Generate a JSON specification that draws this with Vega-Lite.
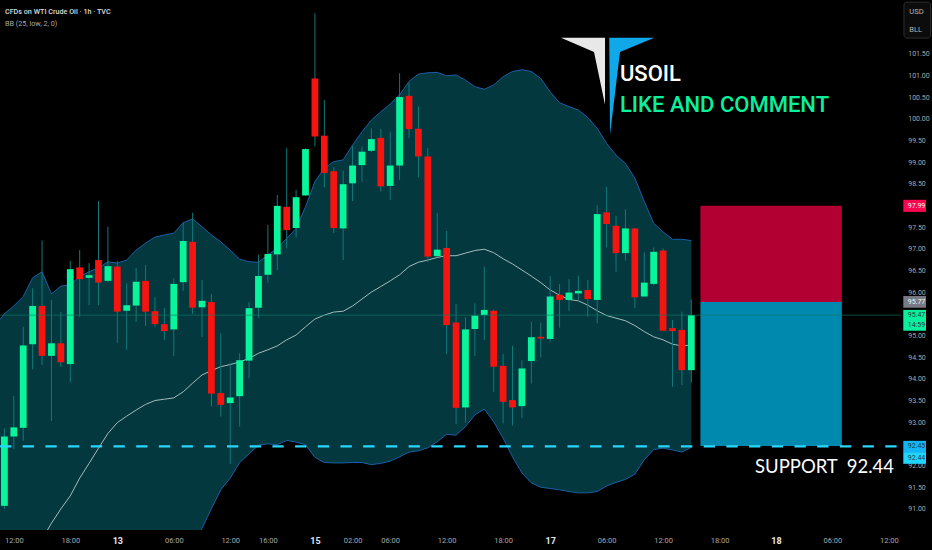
{
  "$schema": "https://vega.github.io/schema/vega-lite/v6.json",
  "width": 932,
  "height": 530,
  "autosize": "none",
  "padding": {"left": 0, "top": 0, "right": 0, "bottom": 20},
  "background": "#000000",
  "config": {"view": {"stroke": null}},
  "datasets": {
    "candles": [
      {"bar":0,"open":91.07,"high":92.86,"low":91.00,"close":92.67},
      {"bar":1,"open":92.67,"high":93.60,"low":92.38,"close":92.88},
      {"bar":2,"open":92.87,"high":95.20,"low":92.57,"close":94.77},
      {"bar":3,"open":94.80,"high":96.09,"low":94.22,"close":95.68},
      {"bar":4,"open":95.68,"high":97.19,"low":94.32,"close":94.53},
      {"bar":5,"open":94.53,"high":95.82,"low":93.03,"close":94.82},
      {"bar":6,"open":94.82,"high":95.54,"low":94.28,"close":94.38},
      {"bar":7,"open":94.34,"high":96.72,"low":93.92,"close":96.53},
      {"bar":8,"open":96.57,"high":96.97,"low":95.43,"close":96.30},
      {"bar":9,"open":96.33,"high":96.67,"low":95.70,"close":96.39},
      {"bar":10,"open":96.74,"high":98.10,"low":95.70,"close":96.22},
      {"bar":11,"open":96.26,"high":97.51,"low":96.23,"close":96.60},
      {"bar":12,"open":96.59,"high":96.72,"low":94.83,"close":95.55},
      {"bar":13,"open":95.57,"high":96.20,"low":94.67,"close":95.70},
      {"bar":14,"open":95.69,"high":96.56,"low":95.32,"close":96.24},
      {"bar":15,"open":96.26,"high":96.63,"low":95.22,"close":95.55},
      {"bar":16,"open":95.56,"high":95.88,"low":95.20,"close":95.26},
      {"bar":17,"open":95.26,"high":95.63,"low":94.90,"close":95.10},
      {"bar":18,"open":95.14,"high":96.32,"low":94.53,"close":96.19},
      {"bar":19,"open":96.23,"high":97.61,"low":96.03,"close":97.18},
      {"bar":20,"open":97.16,"high":97.83,"low":95.50,"close":95.64},
      {"bar":21,"open":95.65,"high":96.28,"low":94.97,"close":95.80},
      {"bar":22,"open":95.77,"high":95.96,"low":93.36,"close":93.66},
      {"bar":23,"open":93.67,"high":95.05,"low":93.13,"close":93.40},
      {"bar":24,"open":93.44,"high":94.37,"low":92.04,"close":93.57},
      {"bar":25,"open":93.60,"high":94.59,"low":92.90,"close":94.43},
      {"bar":26,"open":94.42,"high":95.77,"low":94.01,"close":95.63},
      {"bar":27,"open":95.64,"high":96.86,"low":95.41,"close":96.37},
      {"bar":28,"open":96.40,"high":97.55,"low":96.22,"close":96.88},
      {"bar":29,"open":96.87,"high":98.24,"low":96.51,"close":97.99},
      {"bar":30,"open":97.97,"high":99.32,"low":97.01,"close":97.43},
      {"bar":31,"open":97.48,"high":98.36,"low":97.26,"close":98.19},
      {"bar":32,"open":98.23,"high":99.32,"low":98.22,"close":99.30},
      {"bar":33,"open":100.93,"high":102.43,"low":99.36,"close":99.59},
      {"bar":34,"open":99.61,"high":100.43,"low":98.42,"close":98.75},
      {"bar":35,"open":98.79,"high":98.88,"low":97.36,"close":97.48},
      {"bar":36,"open":97.47,"high":98.80,"low":96.74,"close":98.49},
      {"bar":37,"open":98.51,"high":99.38,"low":98.10,"close":98.92},
      {"bar":38,"open":98.93,"high":99.36,"low":98.55,"close":99.24},
      {"bar":39,"open":99.26,"high":99.78,"low":99.23,"close":99.53},
      {"bar":40,"open":99.56,"high":99.76,"low":98.32,"close":98.44},
      {"bar":41,"open":98.45,"high":99.70,"low":98.13,"close":98.92},
      {"bar":42,"open":98.92,"high":101.05,"low":98.59,"close":100.50},
      {"bar":43,"open":100.53,"high":100.83,"low":99.55,"close":99.76},
      {"bar":44,"open":99.77,"high":100.28,"low":98.65,"close":99.13},
      {"bar":45,"open":99.13,"high":99.32,"low":96.69,"close":96.82},
      {"bar":46,"open":96.83,"high":97.82,"low":96.81,"close":96.98},
      {"bar":47,"open":97.02,"high":97.41,"low":94.57,"close":95.24},
      {"bar":48,"open":95.30,"high":95.73,"low":92.96,"close":93.33},
      {"bar":49,"open":93.34,"high":95.42,"low":92.99,"close":95.14},
      {"bar":50,"open":95.15,"high":95.74,"low":94.53,"close":95.46},
      {"bar":51,"open":95.47,"high":96.59,"low":94.90,"close":95.59},
      {"bar":52,"open":95.57,"high":95.60,"low":93.70,"close":94.28},
      {"bar":53,"open":94.30,"high":94.57,"low":92.97,"close":93.47},
      {"bar":54,"open":93.51,"high":94.76,"low":92.92,"close":93.34},
      {"bar":55,"open":93.37,"high":94.43,"low":93.09,"close":94.24},
      {"bar":56,"open":94.41,"high":95.32,"low":93.89,"close":94.96},
      {"bar":57,"open":94.97,"high":95.30,"low":94.49,"close":94.93},
      {"bar":58,"open":94.92,"high":96.37,"low":94.86,"close":95.90},
      {"bar":59,"open":95.94,"high":96.19,"low":95.18,"close":95.82},
      {"bar":60,"open":95.82,"high":96.30,"low":95.57,"close":95.99},
      {"bar":61,"open":95.97,"high":96.38,"low":95.80,"close":96.03},
      {"bar":62,"open":96.05,"high":96.28,"low":95.43,"close":95.84},
      {"bar":63,"open":95.82,"high":98.00,"low":95.28,"close":97.80},
      {"bar":64,"open":97.84,"high":98.43,"low":97.03,"close":97.57},
      {"bar":65,"open":97.53,"high":97.76,"low":96.47,"close":96.90},
      {"bar":66,"open":96.90,"high":97.91,"low":96.73,"close":97.47},
      {"bar":67,"open":97.47,"high":97.48,"low":95.63,"close":95.88},
      {"bar":68,"open":95.90,"high":96.92,"low":95.89,"close":96.22},
      {"bar":69,"open":96.19,"high":97.03,"low":96.15,"close":96.93},
      {"bar":70,"open":96.96,"high":97.01,"low":95.10,"close":95.11},
      {"bar":71,"open":95.17,"high":95.36,"low":93.82,"close":95.10},
      {"bar":72,"open":95.13,"high":95.55,"low":93.86,"close":94.20},
      {"bar":73,"open":94.20,"high":95.83,"low":93.91,"close":95.47}
    ],
    "bb": [
      {"bar":-1,"upper":95.22,"middle":null,"lower":90.0},
      {"bar":0,"upper":95.50,"middle":null,"lower":90.0},
      {"bar":1,"upper":95.68,"middle":null,"lower":90.0},
      {"bar":2,"upper":95.90,"middle":null,"lower":90.0},
      {"bar":3,"upper":96.33,"middle":null,"lower":90.0},
      {"bar":4,"upper":96.47,"middle":90.30,"lower":90.0},
      {"bar":5,"upper":95.96,"middle":90.67,"lower":90.0},
      {"bar":6,"upper":96.14,"middle":91.00,"lower":90.0},
      {"bar":7,"upper":96.17,"middle":91.30,"lower":90.0},
      {"bar":8,"upper":96.36,"middle":91.71,"lower":90.0},
      {"bar":9,"upper":96.47,"middle":92.05,"lower":90.0},
      {"bar":10,"upper":96.56,"middle":92.40,"lower":90.0},
      {"bar":11,"upper":96.70,"middle":92.74,"lower":90.0},
      {"bar":12,"upper":96.67,"middle":92.99,"lower":90.0},
      {"bar":13,"upper":96.74,"middle":93.14,"lower":90.0},
      {"bar":14,"upper":96.97,"middle":93.28,"lower":90.0},
      {"bar":15,"upper":97.13,"middle":93.41,"lower":90.0},
      {"bar":16,"upper":97.27,"middle":93.50,"lower":90.0},
      {"bar":17,"upper":97.32,"middle":93.53,"lower":90.0},
      {"bar":18,"upper":97.36,"middle":93.56,"lower":90.0},
      {"bar":19,"upper":97.60,"middle":93.70,"lower":90.0},
      {"bar":20,"upper":97.69,"middle":93.90,"lower":90.17},
      {"bar":21,"upper":97.51,"middle":94.09,"lower":90.55},
      {"bar":22,"upper":97.32,"middle":94.19,"lower":91.01},
      {"bar":23,"upper":97.16,"middle":94.28,"lower":91.44},
      {"bar":24,"upper":96.97,"middle":94.33,"lower":91.71},
      {"bar":25,"upper":96.76,"middle":94.39,"lower":92.07},
      {"bar":26,"upper":96.70,"middle":94.47,"lower":92.27},
      {"bar":27,"upper":96.69,"middle":94.59,"lower":92.47},
      {"bar":28,"upper":96.86,"middle":94.67,"lower":92.50},
      {"bar":29,"upper":97.01,"middle":94.76,"lower":92.48},
      {"bar":30,"upper":97.24,"middle":94.90,"lower":92.58},
      {"bar":31,"upper":97.47,"middle":95.01,"lower":92.54},
      {"bar":32,"upper":97.97,"middle":95.20,"lower":92.48},
      {"bar":33,"upper":98.55,"middle":95.38,"lower":92.19},
      {"bar":34,"upper":98.86,"middle":95.47,"lower":92.07},
      {"bar":35,"upper":99.01,"middle":95.54,"lower":92.06},
      {"bar":36,"upper":99.05,"middle":95.56,"lower":92.06},
      {"bar":37,"upper":99.39,"middle":95.68,"lower":92.07},
      {"bar":38,"upper":99.70,"middle":95.84,"lower":92.07},
      {"bar":39,"upper":99.97,"middle":96.00,"lower":92.02},
      {"bar":40,"upper":100.16,"middle":96.13,"lower":92.05},
      {"bar":41,"upper":100.34,"middle":96.26,"lower":92.10},
      {"bar":42,"upper":100.55,"middle":96.40,"lower":92.20},
      {"bar":43,"upper":100.86,"middle":96.59,"lower":92.31},
      {"bar":44,"upper":101.03,"middle":96.69,"lower":92.34},
      {"bar":45,"upper":101.06,"middle":96.74,"lower":92.41},
      {"bar":46,"upper":101.07,"middle":96.80,"lower":92.55},
      {"bar":47,"upper":100.99,"middle":96.84,"lower":92.72},
      {"bar":48,"upper":101.01,"middle":96.84,"lower":92.70},
      {"bar":49,"upper":100.89,"middle":96.90,"lower":92.90},
      {"bar":50,"upper":100.74,"middle":96.96,"lower":93.17},
      {"bar":51,"upper":100.68,"middle":96.99,"lower":93.30},
      {"bar":52,"upper":100.78,"middle":96.91,"lower":93.01},
      {"bar":53,"upper":100.97,"middle":96.77,"lower":92.63},
      {"bar":54,"upper":101.09,"middle":96.65,"lower":92.20},
      {"bar":55,"upper":101.13,"middle":96.51,"lower":91.83},
      {"bar":56,"upper":101.09,"middle":96.37,"lower":91.60},
      {"bar":57,"upper":100.93,"middle":96.22,"lower":91.50},
      {"bar":58,"upper":100.62,"middle":96.05,"lower":91.47},
      {"bar":59,"upper":100.37,"middle":95.93,"lower":91.44},
      {"bar":60,"upper":100.28,"middle":95.83,"lower":91.40},
      {"bar":61,"upper":100.20,"middle":95.80,"lower":91.37},
      {"bar":62,"upper":100.03,"middle":95.70,"lower":91.37},
      {"bar":63,"upper":99.78,"middle":95.57,"lower":91.40},
      {"bar":64,"upper":99.43,"middle":95.46,"lower":91.53},
      {"bar":65,"upper":99.16,"middle":95.40,"lower":91.61},
      {"bar":66,"upper":98.97,"middle":95.34,"lower":91.68},
      {"bar":67,"upper":98.63,"middle":95.23,"lower":91.80},
      {"bar":68,"upper":98.09,"middle":95.09,"lower":92.13},
      {"bar":69,"upper":97.59,"middle":94.97,"lower":92.37},
      {"bar":70,"upper":97.39,"middle":94.90,"lower":92.40},
      {"bar":71,"upper":97.22,"middle":94.80,"lower":92.36},
      {"bar":72,"upper":97.22,"middle":94.76,"lower":92.31},
      {"bar":73,"upper":97.19,"middle":94.78,"lower":92.42}
    ]
  },
  "encoding": {
    "x": {
      "field": "bar",
      "type": "quantitative",
      "scale": {"domain": [-0.468, 98.58], "nice": false, "zero": false, "padding": 0},
      "axis": {
        "title": null,
        "grid": false,
        "domain": false,
        "ticks": false,
        "labelPadding": 6,
        "labelFont": "Roboto",
        "labelFontSize": {"expr": "indexof([12,33,58,82],datum.value)>=0?9:7.5"},
        "labelColor": {"expr": "indexof([12,33,58,82],datum.value)>=0?'#e6e6e6':'#a8a8a8'"},
        "labelFontWeight": {"expr": "indexof([12,33,58,82],datum.value)>=0?'bold':'normal'"},
        "labelOverlap": false,
        "labelFlush": false,
        "tickCount": 30,
        "values": [1,7,12,18,24,28,33,37,41,47,53,58,64,70,76,82,88,94],
        "labelExpr": "indexof([1,24,47,70,94],datum.value)>=0?'12:00':indexof([7,53,76],datum.value)>=0?'18:00':indexof([18,41,64,88],datum.value)>=0?'06:00':datum.value==28?'16:00':datum.value==37?'02:00':datum.value==12?'13':datum.value==33?'15':datum.value==58?'17':'18'"
      }
    }
  },
  "layer": [
    {
      "data": {"name": "bb"},
      "mark": {"type": "area", "color": "#03383f", "clip": true, "orient": "vertical"},
      "encoding": {
        "y": {
          "field": "upper",
          "type": "quantitative",
          "scale": {"domain": [90.513, 102.739], "nice": false, "zero": false},
          "axis": {
            "title": null,
            "orient": "right",
            "offset": -24.3,
            "grid": false,
            "domain": false,
            "ticks": false,
            "labelPadding": 0,
            "labelAlign": "left",
            "labelFont": "Roboto",
            "labelFontSize": 7,
            "labelColor": "#a8a8a8",
            "labelOverlap": false,
            "format": ".2f",
            "tickCount": 30,
            "values": [91,91.5,92,92.5,93,93.5,94,94.5,95,95.5,96,96.5,97,97.5,98,98.5,99,99.5,100,100.5,101,101.5]
          }
        },
        "y2": {"field": "lower"}
      }
    },
    {
      "data": {"name": "bb"},
      "mark": {"type": "line", "color": "#1c5ea6", "strokeWidth": 1, "clip": true},
      "encoding": {"y": {"field": "upper", "type": "quantitative"}}
    },
    {
      "data": {"name": "bb"},
      "mark": {"type": "line", "color": "#1c5ea6", "strokeWidth": 1, "clip": true},
      "encoding": {"y": {"field": "lower", "type": "quantitative"}}
    },
    {
      "data": {"name": "bb"},
      "mark": {"type": "line", "color": "#a5bcbc", "strokeWidth": 1, "clip": true},
      "encoding": {"y": {"field": "middle", "type": "quantitative"}}
    },
    {
      "data": {"name": "candles"},
      "mark": {"type": "rule", "color": "#12797a", "strokeWidth": 1},
      "encoding": {
        "y": {"field": "high", "type": "quantitative"},
        "y2": {"field": "low"}
      }
    },
    {
      "data": {"name": "candles"},
      "mark": {"type": "bar", "size": 6.8, "orient": "vertical"},
      "encoding": {
        "y": {"field": "open", "type": "quantitative"},
        "y2": {"field": "close"},
        "color": {
          "condition": {"test": "datum.close >= datum.open", "value": "#08f59b"},
          "value": "#f5140f"
        }
      }
    },
    {
      "data": {"values": [{"bar": 73.97, "bar2": 89, "top": 97.99, "bottom": 95.77}]},
      "mark": {"type": "rect", "color": "#b30032"},
      "encoding": {
        "x2": {"field": "bar2"},
        "y": {"field": "top", "type": "quantitative"},
        "y2": {"field": "bottom"}
      }
    },
    {
      "data": {"values": [{"bar": 73.97, "bar2": 89, "top": 95.77, "bottom": 92.45}]},
      "mark": {"type": "rect", "color": "#0089ae"},
      "encoding": {
        "x2": {"field": "bar2"},
        "y": {"field": "top", "type": "quantitative"},
        "y2": {"field": "bottom"}
      }
    },
    {
      "data": {"values": [{"bar": -0.468, "bar2": 95.3, "price": 95.47}]},
      "mark": {"type": "rule", "color": "#0f7a66", "strokeWidth": 1, "opacity": 0.65},
      "encoding": {"x2": {"field": "bar2"}, "y": {"field": "price", "type": "quantitative"}}
    },
    {
      "data": {"values": [{"bar": -0.468, "bar2": 95.3, "price": 92.44}]},
      "mark": {"type": "rule", "color": "#2ad6ff", "strokeWidth": 2.2, "strokeDash": [11.3, 11.4]},
      "encoding": {"x2": {"field": "bar2"}, "y": {"field": "price", "type": "quantitative"}}
    },
    {
      "data": {"values": [
        {"bar": 59.15, "top": 101.87, "bottom": 101.87},
        {"bar": 62.66, "top": 101.87, "bottom": 101.54},
        {"bar": 63.83, "top": 101.87, "bottom": 100.32}
      ]},
      "mark": {"type": "area", "color": "#e8e8e8", "orient": "vertical"},
      "encoding": {
        "y": {"field": "top", "type": "quantitative"},
        "y2": {"field": "bottom"}
      }
    },
    {
      "data": {"values": [
        {"bar": 64.28, "top": 101.87, "bottom": 101.87},
        {"bar": 64.36, "top": 101.87, "bottom": 99.63},
        {"bar": 65.42, "top": 101.87, "bottom": 101.54},
        {"bar": 69.07, "top": 101.87, "bottom": 101.87}
      ]},
      "mark": {"type": "area", "color": "#11a8ea", "orient": "vertical"},
      "encoding": {
        "y": {"field": "top", "type": "quantitative"},
        "y2": {"field": "bottom"}
      }
    },
    {
      "data": {"values": [{"bar": 65.42, "price": 100.86, "label": "USOIL"}]},
      "mark": {"type": "text", "font": "Roboto", "fontSize": 22, "fontWeight": 500, "align": "left", "baseline": "alphabetic", "color": "#ffffff"},
      "encoding": {"y": {"field": "price", "type": "quantitative"}, "text": {"field": "label"}}
    },
    {
      "data": {"values": [{"bar": 65.42, "price": 100.16, "label": "LIKE AND COMMENT"}]},
      "mark": {"type": "text", "font": "Roboto", "fontSize": 22, "fontWeight": 500, "align": "left", "baseline": "alphabetic", "color": "#0bf09c"},
      "encoding": {"y": {"field": "price", "type": "quantitative"}, "text": {"field": "label"}}
    },
    {
      "data": {"values": [{"bar": 94.54, "price": 91.83, "label": "SUPPORT\u00a0\u00a092.44"}]},
      "mark": {"type": "text", "font": "Lato", "fontSize": 18.5, "align": "right", "baseline": "alphabetic", "color": "#ffffff"},
      "encoding": {"y": {"field": "price", "type": "quantitative"}, "text": {"field": "label"}}
    },
    {
      "data": {"values": [{"bar": 0.06, "price": 102.46, "label": "CFDs on WTI Crude Oil · 1h · TVC"}]},
      "mark": {"type": "text", "font": "Roboto", "fontSize": 7.2, "fontWeight": 500, "align": "left", "color": "#dddddd"},
      "encoding": {"y": {"field": "price", "type": "quantitative"}, "text": {"field": "label"}}
    },
    {
      "data": {"values": [{"bar": 0.06, "price": 102.19, "label": "BB (25, low, 2, 0)"}]},
      "mark": {"type": "text", "font": "Roboto", "fontSize": 7.2, "align": "left", "color": "#a8a8a8"},
      "encoding": {"y": {"field": "price", "type": "quantitative"}, "text": {"field": "label"}}
    },
    {
      "data": {"values": [{"bar": 95.6, "bar2": 98.44, "top": 102.69, "bottom": 101.86}]},
      "mark": {"type": "rect", "color": "#0c0c0c", "stroke": "#2e2e2e", "strokeWidth": 1, "cornerRadius": 3},
      "encoding": {
        "x2": {"field": "bar2"},
        "y": {"field": "top", "type": "quantitative"},
        "y2": {"field": "bottom"}
      }
    },
    {
      "data": {"values": [
        {"bar": 96.17, "price": 102.46, "label": "USD"},
        {"bar": 96.17, "price": 102.05, "label": "BLL"}
      ]},
      "mark": {"type": "text", "font": "Roboto", "fontSize": 7.5, "align": "left", "color": "#b8b8b8"},
      "encoding": {"y": {"field": "price", "type": "quantitative"}, "text": {"field": "label"}}
    },
    {
      "data": {"values": [{"bar": 95.53, "bar2": 97.94, "top": 98.13, "bottom": 97.85}]},
      "mark": {"type": "rect", "color": "#f7054f"},
      "encoding": {
        "x2": {"field": "bar2"},
        "y": {"field": "top", "type": "quantitative"},
        "y2": {"field": "bottom"}
      }
    },
    {
      "data": {"values": [{"bar": 95.53, "bar2": 97.94, "top": 95.91, "bottom": 95.64}]},
      "mark": {"type": "rect", "color": "#787b86"},
      "encoding": {
        "x2": {"field": "bar2"},
        "y": {"field": "top", "type": "quantitative"},
        "y2": {"field": "bottom"}
      }
    },
    {
      "data": {"values": [{"bar": 95.53, "bar2": 97.94, "top": 95.59, "bottom": 95.11}]},
      "mark": {"type": "rect", "color": "#0bf09c"},
      "encoding": {
        "x2": {"field": "bar2"},
        "y": {"field": "top", "type": "quantitative"},
        "y2": {"field": "bottom"}
      }
    },
    {
      "data": {"values": [{"bar": 95.53, "bar2": 97.94, "top": 92.57, "bottom": 92.31}]},
      "mark": {"type": "rect", "color": "#12b5f5"},
      "encoding": {
        "x2": {"field": "bar2"},
        "y": {"field": "top", "type": "quantitative"},
        "y2": {"field": "bottom"}
      }
    },
    {
      "data": {"values": [{"bar": 95.53, "bar2": 97.94, "top": 92.31, "bottom": 92.04}]},
      "mark": {"type": "rect", "color": "#1fd4ff"},
      "encoding": {
        "x2": {"field": "bar2"},
        "y": {"field": "top", "type": "quantitative"},
        "y2": {"field": "bottom"}
      }
    },
    {
      "data": {"values": [
        {"bar": 96, "price": 97.99, "label": "97.99"},
        {"bar": 96, "price": 95.77, "label": "95.77"}
      ]},
      "mark": {"type": "text", "font": "Roboto", "fontSize": 7, "align": "left", "color": "#f2f2f2"},
      "encoding": {"y": {"field": "price", "type": "quantitative"}, "text": {"field": "label"}}
    },
    {
      "data": {"values": [
        {"bar": 96, "price": 95.47, "label": "95.47"},
        {"bar": 96, "price": 95.24, "label": "14:59"},
        {"bar": 96, "price": 92.45, "label": "92.45"},
        {"bar": 96, "price": 92.17, "label": "92.44"}
      ]},
      "mark": {"type": "text", "font": "Roboto", "fontSize": 7, "align": "left", "color": "#1f3a3a"},
      "encoding": {"y": {"field": "price", "type": "quantitative"}, "text": {"field": "label"}}
    }
  ]
}
